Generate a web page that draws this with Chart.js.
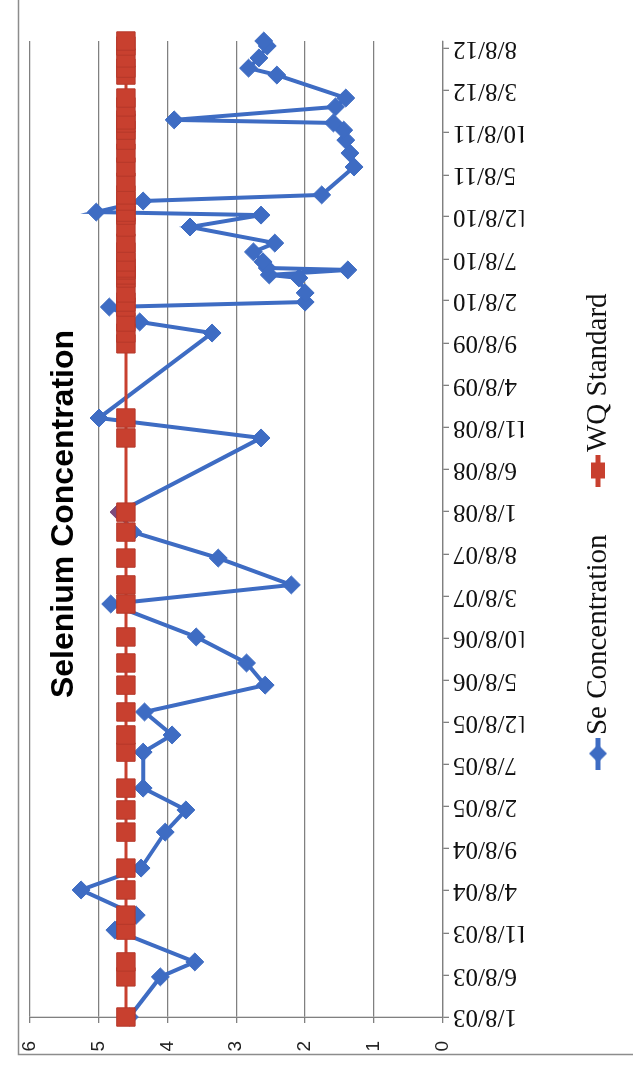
<!DOCTYPE html>
<html>
<head>
<meta charset="utf-8">
<title>Selenium Concentration</title>
<script src="https://cdn.jsdelivr.net/npm/chart.js@4.4.1/dist/chart.umd.min.js"></script>
<style>
    html, body { margin: 0; padding: 0; background: #fff; }
    #page { position: relative; width: 633px; height: 1071px; overflow: hidden; background: #fff; }
    /* the scanned page is turned on its side, so the chart is drawn landscape and rotated */
    #chartBox { position: absolute; left: 0; top: 0; width: 1071px; height: 633px;
                transform-origin: 0 0; transform: translate(0, 1071px) rotate(-90deg); }
</style>
</head>
<body>
<div id="page">
    <div id="chartBox"><canvas id="seleniumChart" width="1071" height="633"></canvas></div>
</div>
<script>
var tickLabels = ['1/8/03', '6/8/03', '11/8/03', '4/8/04', '9/8/04', '2/8/05', '7/8/05', '12/8/05',
    '5/8/06', '10/8/06', '3/8/07', '8/8/07', '1/8/08', '6/8/08', '11/8/08', '4/8/09', '9/8/09',
    '2/8/10', '7/8/10', '12/8/10', '5/8/11', '10/8/11', '3/8/12', '8/8/12'];

var sampleDates = [
    '2003-01-08', '2003-06-02', '2003-07-26', '2003-11-18', '2004-01-11', '2004-04-11', '2004-06-29',
    '2004-11-06', '2005-01-25', '2005-04-14', '2005-08-22', '2005-10-23', '2006-01-14', '2006-04-21',
    '2006-07-10', '2006-10-12', '2007-02-08', '2007-04-18', '2007-07-24', '2007-10-26', '2008-01-06',
    '2008-09-30', '2008-12-11', '2009-10-14', '2009-11-23', '2010-01-16', '2010-02-03', '2010-03-08',
    '2010-05-01', '2010-05-12', '2010-05-30', '2010-06-06', '2010-06-28', '2010-08-03', '2010-09-04',
    '2010-11-01', '2010-12-14', '2010-12-25', '2011-02-03', '2011-02-25', '2011-06-06', '2011-07-26',
    '2011-09-11', '2011-10-17', '2011-11-12', '2011-11-23', '2012-01-09', '2012-02-10', '2012-05-03',
    '2012-05-28', '2012-07-04', '2012-08-16', '2012-09-03'];

var seValues = [
    4.55, 4.1, 3.6, 4.76, 4.45, 5.25, 4.38,
    4.03, 3.73, 4.35, 4.35, 3.93, 4.33, 2.58,
    2.85, 3.58, 4.82, 2.2, 3.26, 4.5, 4.7,
    2.64, 4.99, 3.35, 4.4, 4.84, 2.0, 2.0,
    2.09, 2.52, 1.38, 2.55, 2.61, 2.75, 2.44,
    3.67, 2.64, 5.03, 4.35, 1.76, 1.29, 1.35,
    1.41, 1.44, 1.59, 3.9, 1.56, 1.41, 2.41,
    2.82, 2.67, 2.55, 2.6];

// the standard is also plotted on a couple of dates that have no Se point
var wqDates = [
    '2003-01-08', '2003-06-02', '2003-07-26', '2003-11-18', '2004-01-11', '2004-04-11', '2004-06-29',
    '2004-11-06', '2005-01-25', '2005-04-14', '2005-08-22', '2005-10-23', '2006-01-14', '2006-04-21',
    '2006-07-10', '2006-10-12', '2007-02-08', '2007-04-18', '2007-07-24', '2007-10-26', '2008-01-06',
    '2008-09-30', '2008-12-11', '2009-09-05', '2009-10-14', '2009-11-23', '2010-01-16', '2010-02-03',
    '2010-03-08', '2010-05-01', '2010-05-12', '2010-05-30', '2010-06-06', '2010-06-28', '2010-08-03',
    '2010-09-04', '2010-11-01', '2010-12-14', '2010-12-25', '2011-02-03', '2011-02-25', '2011-04-12',
    '2011-06-06', '2011-07-26', '2011-09-11', '2011-10-17', '2011-11-12', '2011-11-23', '2012-01-09',
    '2012-02-10', '2012-05-03', '2012-05-28', '2012-07-04', '2012-08-16', '2012-09-03'];

var wqValues = [
    4.6, 4.6, 4.6, 4.6, 4.6, 4.6, 4.6,
    4.6, 4.6, 4.6, 4.6, 4.6, 4.6, 4.6,
    4.6, 4.6, 4.6, 4.6, 4.6, 4.6, 4.6,
    4.6, 4.6, 4.6, 4.6, 4.6, 4.6, 4.6,
    4.6, 4.6, 4.6, 4.6, 4.6, 4.6, 4.6,
    4.6, 4.6, 4.6, 4.6, 4.6, 4.6, 4.6,
    4.6, 4.6, 4.6, 4.6, 4.6, 4.6, 4.6,
    4.6, 4.6, 4.6, 4.6, 4.6, 4.6];

var axisStart = '2003-01-08';
var axisEnd = '2012-09-03';
var markedSample = '2008-01-06';   // this marker shows up purple on the scan

var blue = '#3e6cc3';
var red = '#c8402f';
var purple = '#7d4b7c';
var gridColor = '#808080';

// days since the first sample, so the x axis is a real time scale
function dayNum(iso) {
    var p = iso.split('-');
    return (Date.UTC(+p[0], +p[1] - 1, +p[2]) - Date.UTC(2003, 0, 8)) / 86400000;
}

function labelDay(label) {
    var p = label.split('/');
    return dayNum((2000 + +p[2]) + '-' + p[0] + '-' + p[1]);
}

function makeLegendIcon(color, shape) {
    var c = document.createElement('canvas');
    c.width = 32;
    c.height = 22;
    var g = c.getContext('2d');
    g.strokeStyle = color;
    g.lineWidth = 5;
    g.beginPath();
    g.moveTo(0, 11);
    g.lineTo(32, 11);
    g.stroke();
    g.fillStyle = color;
    if (shape === 'diamond') {
        g.beginPath();
        g.moveTo(16, 2);
        g.lineTo(25, 11);
        g.lineTo(16, 20);
        g.lineTo(7, 11);
        g.closePath();
        g.fill();
    } else {
        g.fillRect(8, 4, 16, 14);
    }
    return c;
}

var framePlugin = {
    id: 'frame',
    beforeDraw: function(chart) {
        var ctx = chart.ctx;
        ctx.save();
        ctx.strokeStyle = '#8c8c8c';
        ctx.lineWidth = 1.5;
        ctx.strokeRect(16.5, 18.5, 2000, 2000);
        ctx.restore();
    }
};

var titlePlugin = {
    id: 'overlayTitle',
    afterDraw: function(chart) {
        var ctx = chart.ctx;
        ctx.save();
        ctx.fillStyle = '#000';
        ctx.font = 'bold 32px "Liberation Sans", Arial, sans-serif';
        ctx.textAlign = 'center';
        ctx.textBaseline = 'middle';
        ctx.fillText('Selenium Concentration', 557, 64);
        ctx.restore();
    }
};

function createSeleniumChart() {
    var legendIcons = [makeLegendIcon(blue, 'diamond'), makeLegendIcon(red, 'square')];
    var sePoints = sampleDates.map(function(d, i) { return {x: dayNum(d), y: seValues[i]}; });
    var wqPoints = wqDates.map(function(d, i) { return {x: dayNum(d), y: wqValues[i]}; });
    var markedX = dayNum(markedSample);

    var ctx = document.getElementById('seleniumChart').getContext('2d');
    new Chart(ctx, {
        type: 'line',
        data: {
            datasets: [{
                label: 'Se Concentration',
                data: sePoints,
                borderColor: blue,
                borderWidth: 4,
                pointStyle: 'rectRot',
                pointRadius: 9,
                pointBorderWidth: 1,
                pointBackgroundColor: function(c) { return c.raw && c.raw.x === markedX ? purple : blue; },
                pointBorderColor: function(c) { return c.raw && c.raw.x === markedX ? purple : blue; },
                tension: 0,
                clip: false,
                order: 1
            }, {
                label: 'WQ Standard',
                data: wqPoints,
                borderColor: red,
                borderWidth: 3,
                pointStyle: 'rect',
                pointRadius: 13,
                pointBorderWidth: 1,
                pointBackgroundColor: red,
                pointBorderColor: '#b5382a',
                tension: 0,
                clip: false,
                order: 0
            }]
        },
        options: {
            responsive: false,
            animation: false,
            events: [],
            layout: { padding: { top: 29, left: 20, right: 0, bottom: 10.5 } },
            scales: {
                x: {
                    type: 'linear',
                    min: dayNum(axisStart),
                    max: dayNum(axisEnd),
                    afterBuildTicks: function(scale) {
                        scale.ticks = tickLabels.map(function(l) { return {value: labelDay(l)}; });
                    },
                    afterFit: function(scale) { scale.height = 80.5; },
                    ticks: {
                        autoSkip: false,
                        minRotation: 90,
                        maxRotation: 90,
                        padding: 4,
                        color: '#111',
                        font: { family: '"Liberation Serif", "Times New Roman", serif', size: 25 },
                        callback: function(value, index) { return tickLabels[index]; }
                    },
                    grid: { drawOnChartArea: false, drawTicks: true, tickLength: 6, color: gridColor, lineWidth: 1.3 },
                    border: { display: true, color: gridColor, width: 1.3 }
                },
                y: {
                    min: 0,
                    max: 6,
                    afterFit: function(scale) { scale.width = 34; },
                    ticks: {
                        stepSize: 1,
                        padding: 18,
                        color: '#222',
                        font: { family: '"Liberation Sans", Arial, sans-serif', size: 19 }
                    },
                    grid: { color: gridColor, lineWidth: 1.3, tickLength: 6 },
                    border: { display: true, color: gridColor, width: 1.3 }
                },
                // empty right-hand strip, keeps the plot end where the scan has it
                side: {
                    position: 'right',
                    afterFit: function(scale) { scale.width = 41; },
                    ticks: { display: false },
                    grid: { display: false },
                    border: { display: false }
                }
            },
            plugins: {
                title: { display: false },
                tooltip: { enabled: false },
                legend: {
                    position: 'bottom',
                    labels: {
                        usePointStyle: true,
                        pointStyleWidth: 8,
                        padding: 60,
                        color: '#111',
                        font: { family: '"Liberation Serif", "Times New Roman", serif', size: 29 },
                        sort: function(a, b) { return a.datasetIndex - b.datasetIndex; },
                        generateLabels: function(chart) {
                            var items = Chart.defaults.plugins.legend.labels.generateLabels(chart);
                            items.forEach(function(item) { item.pointStyle = legendIcons[item.datasetIndex]; });
                            return items;
                        }
                    }
                }
            }
        },
        plugins: [framePlugin, titlePlugin]
    });
}

createSeleniumChart();
</script>
</body>
</html>
